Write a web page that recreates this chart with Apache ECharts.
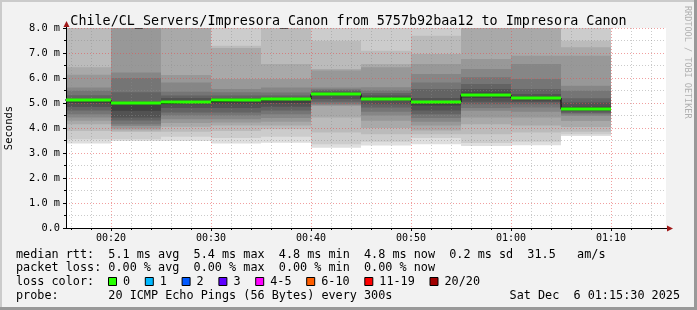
<!DOCTYPE html>
<html><head><meta charset="utf-8">
<script src="https://cdn.jsdelivr.net/npm/echarts@6/dist/echarts.min.js"></script>
<style>html,body{margin:0;padding:0;background:#f2f2f2}#c{width:697px;height:310px}</style>
</head><body><div id="c"></div><script>
// ---- data ----
const titleText = 'Chile/CL_Servers/Impresora_Canon from 5757b92baa12 to Impresora Canon';
const colStart = [15, 20, 25, 30, 35, 40, 45, 50, 55, 60, 65]; // minutes after 00:00 (5 min steps)
const stepMin = 5;
const medians = [5.12, 4.98, 5.06, 5.12, 5.16, 5.35, 5.18, 5.04, 5.33, 5.20, 4.75];
// 20 sorted ping rtts (ms) per step
const pings0  = [3.38,3.55,3.88,4.15,4.29,4.42,4.55,4.70,4.84,5.00,5.14,5.17,5.31,5.49,5.62,6.13,6.43,8.5,9.0,10.0];
const pings1  = [3.48,3.55,3.84,3.90,3.98,4.08,4.15,4.30,4.42,4.69,4.98,5.07,5.43,6.00,6.22,8.5,9.0,9.5,10.0,11.0];
const pings2  = [3.48,3.65,3.85,4.05,4.20,4.35,4.50,4.62,4.80,4.95,5.10,5.20,5.30,5.45,5.82,6.12,8.5,9.0,10.0,11.0];
const pings3  = [3.38,3.60,3.88,4.10,4.22,4.35,4.50,4.62,4.80,4.98,5.12,5.20,5.30,5.43,5.56,5.96,7.20,7.29,8.5,9.0];
const pings4  = [3.41,3.65,3.95,4.10,4.25,4.40,4.55,4.70,4.85,5.00,5.16,5.22,5.30,5.42,5.62,5.96,6.56,8.5,9.0,10.0];
const pings5  = [3.21,3.35,3.82,4.42,4.88,4.92,4.97,5.05,5.16,5.30,5.40,5.45,5.50,5.55,5.62,6.30,6.36,7.49,8.5,9.0];
const pings6  = [3.30,3.45,3.75,4.00,4.29,4.50,4.65,4.82,4.95,5.10,5.22,5.30,5.40,5.50,5.63,6.43,6.56,7.09,8.5,9.0];
const pings7  = [3.35,3.60,3.75,3.90,4.10,4.25,4.40,4.55,4.70,4.90,5.08,5.20,5.56,5.82,6.16,6.56,6.96,7.69,8.5,9.0];
const pings8  = [3.28,3.40,3.75,4.15,4.42,4.69,4.80,4.95,5.05,5.20,5.42,5.56,5.76,6.03,6.36,6.76,8.5,9.0,9.5,10.0];
const pings9  = [3.31,3.45,3.82,4.10,4.42,4.65,4.82,4.95,5.04,5.10,5.26,5.36,5.56,5.96,6.56,6.89,8.5,9.0,9.5,10.0];
const pings10 = [3.68,3.75,3.85,4.04,4.28,4.48,4.55,4.60,4.66,4.70,4.85,5.02,5.19,5.49,5.69,6.89,7.23,7.49,8.5,9.0];
const pingSets = [pings0,pings1,pings2,pings3,pings4,pings5,pings6,pings7,pings8,pings9,pings10];
const xMajorTicks = [20, 30, 40, 50, 60, 70];
const xMinorTicks = [16,18,22,24,26,28,32,34,36,38,42,44,46,48,52,54,56,58,62,64,66,68,72,74];
const statsLine1 = 'median rtt:  5.1 ms avg  5.4 ms max  4.8 ms min  4.8 ms now  0.2 ms sd  31.5   am/s';
const statsLine2 = 'packet loss: 0.00 % avg  0.00 % max  0.00 % min  0.00 % now';
const lossLabels = ['0','1','2','3','4-5','6-10','11-19','20/20'];
const lossColors = ['#26ff00','#00b8ff','#0059ff','#5e00ff','#ff00ff','#ff5e00','#ff0000','#a10000'];
const probeLine = 'probe:       20 ICMP Echo Pings (56 Bytes) every 300s';
const dateText = 'Sat Dec  6 01:15:30 2025';

// ---- build series data ----
const smokeData = [];
pingSets.forEach((p, c) => {
  const n = p.length, half = n / 2;
  for (let i = 1; i <= half; i++) {
    smokeData.push([colStart[c], colStart[c] + stepMin, p[i - 1], p[n - i], i]);
  }
});
const medSegs = medians.map((m, c) => [colStart[c], colStart[c] + stepMin, m]);
const medStep = medians.map((m, c) => [colStart[c], m]);
medStep.push([colStart[colStart.length - 1] + stepMin, medians[medians.length - 1]]);

const MONO = 'DejaVu Sans Mono';
const pad = v => (v < 10 ? '0' : '') + v;
const fmtTime = v => pad(Math.floor(v / 60)) + ':' + pad(v % 60);

function clip(rect, cs) {
  return echarts.graphic.clipRectByRect(rect, {x: cs.x, y: cs.y, width: cs.width, height: cs.height});
}
function renderSmoke(params, api) {
  const a = api.coord([api.value(0), api.value(2)]);
  const b = api.coord([api.value(1), api.value(3)]);
  const lvl = api.value(4);
  const r = clip({x: a[0], y: b[1], width: b[0] - a[0], height: a[1] - b[1]}, params.coordSys);
  if (!r) return;
  const g = Math.round(64 + 17.5 * (10 - lvl));
  return {type: 'rect', shape: r, z2: lvl, style: {fill: 'rgb(' + g + ',' + g + ',' + g + ')'}};
}
function renderMedian(params, api) {
  const a = api.coord([api.value(0), api.value(2)]);
  const b = api.coord([api.value(1), api.value(2)]);
  return {type: 'rect', shape: {x: a[0], y: Math.round(a[1]) - 1.5, width: b[0] - a[0], height: 3}, style: {fill: '#26ff00'}};
}

// legend graphics
const gfx = [];
const CW = 7.1;
const X0 = 16;
const rowsY = [254.5, 268, 282, 295.5];
const FONT = '11.8px ' + MONO;
gfx.push({type: 'text', x: X0, y: rowsY[0], style: {text: statsLine1, font: FONT, fill: '#000', verticalAlign: 'middle'}});
gfx.push({type: 'text', x: X0, y: rowsY[1], style: {text: statsLine2, font: FONT, fill: '#000', verticalAlign: 'middle'}});
gfx.push({type: 'text', x: X0, y: rowsY[2], style: {text: 'loss color:', font: FONT, fill: '#000', verticalAlign: 'middle'}});
gfx.push({type: 'text', x: X0, y: rowsY[3], style: {text: probeLine, font: FONT, fill: '#000', verticalAlign: 'middle'}});
gfx.push({type: 'text', x: 680, y: rowsY[3], style: {text: dateText, font: FONT, fill: '#000', align: 'right', verticalAlign: 'middle'}});
let bx = 108;
lossLabels.forEach((lab, k) => {
  gfx.push({type: 'rect', shape: {x: bx + 0.5, y: rowsY[2] - 4.5, width: 8, height: 8}, style: {fill: lossColors[k], stroke: '#000', lineWidth: 1}});
  gfx.push({type: 'text', x: bx + 15, y: rowsY[2], style: {text: lab, font: FONT, fill: '#000', verticalAlign: 'middle'}});
  bx += 15 + lab.length * CW + 14.7;
});
// RRDTOOL watermark
gfx.push({type: 'text', x: 687, y: 6, rotation: -Math.PI / 2, style: {text: 'RRDTOOL / TOBI OETIKER', font: '8.5px ' + MONO, fill: '#b0b0b0', align: 'left', verticalAlign: 'middle'}});
// frame
gfx.push({type: 'rect', shape: {x: 0, y: 0, width: 697, height: 2}, style: {fill: '#cbcbcb'}});
gfx.push({type: 'rect', shape: {x: 0, y: 0, width: 2, height: 310}, style: {fill: '#cbcbcb'}});
gfx.push({type: 'rect', shape: {x: 0, y: 307, width: 697, height: 3}, style: {fill: '#999999'}});
gfx.push({type: 'rect', shape: {x: 694, y: 0, width: 3, height: 310}, style: {fill: '#999999'}});
// axis arrows
gfx.push({type: 'line', shape: {x1: 66.5, y1: 28, x2: 66.5, y2: 25}, style: {stroke: '#000', lineWidth: 1}});
gfx.push({type: 'polygon', shape: {points: [[66.5, 21], [63.5, 27], [69.5, 27]]}, style: {fill: '#a01818'}});
gfx.push({type: 'line', shape: {x1: 666, y1: 228.5, x2: 669, y2: 228.5}, style: {stroke: '#000', lineWidth: 1}});
gfx.push({type: 'polygon', shape: {points: [[673, 228.5], [667, 225.5], [667, 231.5]]}, style: {fill: '#a01818'}});

const majorGrid = {show: true, lineStyle: {color: 'rgba(230,80,80,0.55)', type: [1, 2], width: 1}};
const minorGrid = {show: true, lineStyle: {color: 'rgba(140,140,140,0.45)', type: [1, 2], width: 1}};

const option = {
  backgroundColor: '#f2f2f2',
  animation: false,
  title: {text: titleText, left: 'center', top: 8, textStyle: {fontFamily: MONO, fontSize: 13.4, lineHeight: 18, fontWeight: 'normal', color: '#000'}},
  grid: {left: 66, right: 31, top: 28, bottom: 82, show: true, backgroundColor: '#ffffff', borderWidth: 0, containLabel: false, outerBoundsMode: 'none'},
  xAxis: [{
    type: 'value', min: 15.5, max: 75.5, z: 3,
    axisLine: {show: true, onZero: false, lineStyle: {color: '#000', width: 1}},
    axisTick: {show: true, customValues: xMajorTicks, length: 3, lineStyle: {color: '#000'}},
    axisLabel: {show: true, customValues: xMajorTicks, formatter: v => fmtTime(v), fontFamily: MONO, fontSize: 10, color: '#000', margin: 5},
    splitLine: majorGrid
  }, {
    type: 'value', min: 15.5, max: 75.5, position: 'bottom', z: 3,
    axisLine: {show: false},
    axisTick: {show: true, customValues: xMinorTicks, length: 2, lineStyle: {color: '#000'}},
    axisLabel: {show: false},
    splitLine: minorGrid
  }],
  yAxis: {
    type: 'value', min: 0, max: 8, interval: 1, z: 3,
    name: 'Seconds', nameLocation: 'middle', nameGap: 51,
    nameTextStyle: {fontFamily: MONO, fontSize: 10.5, color: '#000'},
    axisLine: {show: true, lineStyle: {color: '#000', width: 1}},
    axisTick: {show: true, length: 3, lineStyle: {color: '#000'}},
    minorTick: {show: true, splitNumber: 2, length: 2, lineStyle: {color: '#000'}},
    axisLabel: {formatter: v => v === 0 ? '0.0' : v.toFixed(1) + ' m', fontFamily: MONO, fontSize: 10.3, color: '#000', margin: 6},
    splitLine: majorGrid,
    minorSplitLine: minorGrid
  },
  series: [{
    type: 'custom', name: 'smoke', z: 1, xAxisIndex: 0, renderItem: renderSmoke,
    data: smokeData, encode: {x: [0, 1], y: [2, 3]}, clip: true, silent: true
  }, {
    type: 'line', name: 'median', z: 4, step: 'end', data: medStep, symbol: 'none',
    lineStyle: {color: '#000', width: 1}, silent: true
  }, {
    type: 'custom', name: 'loss0', z: 5, renderItem: renderMedian,
    data: medSegs, encode: {x: [0, 1], y: 2}, clip: true, silent: true
  }],
  graphic: gfx
};
const chart = echarts.init(document.getElementById('c'), null, {renderer: 'canvas'});
chart.setOption(option);
</script></body></html>
